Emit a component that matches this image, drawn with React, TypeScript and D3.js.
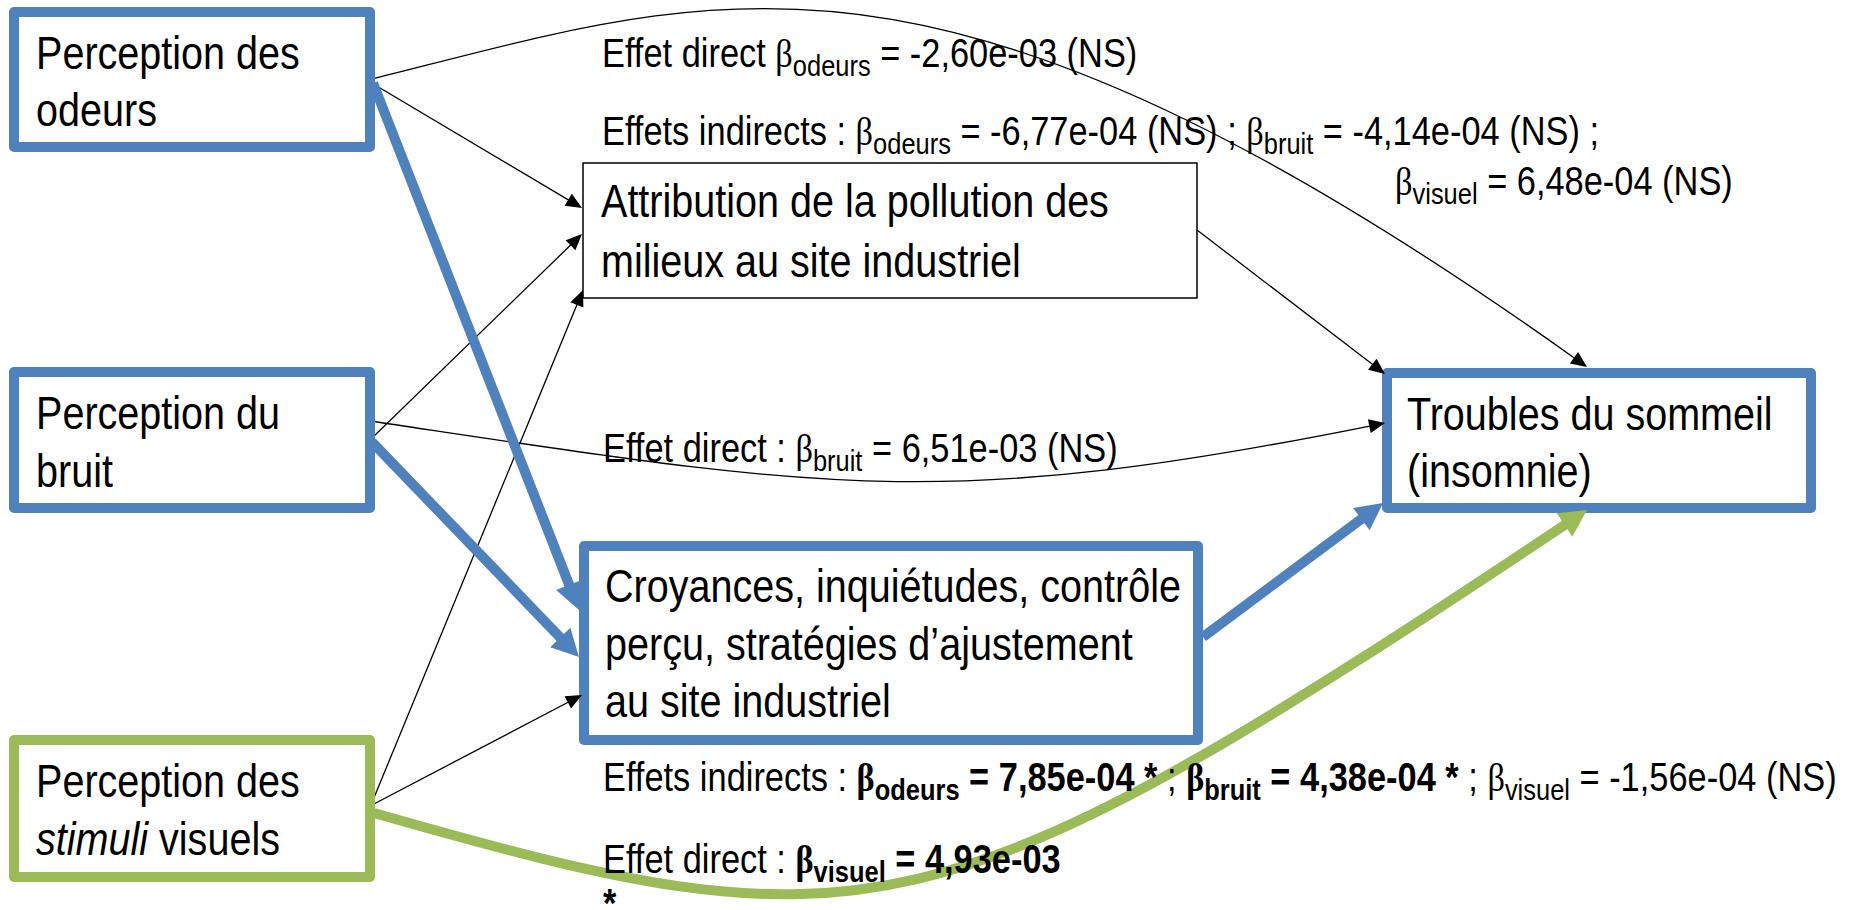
import React from "react";
import * as d3 from "d3";

type Seg = { t: string; b?: boolean; sub?: boolean; gr?: boolean; it?: boolean };
type Pt = [number, number];

const W = 1858;
const H = 910;
const BLUE = "#4F81BD";
const GREEN = "#9BBB59";
const SANS = "'Liberation Sans', Arial, sans-serif";
const SERIF = "'Liberation Serif', 'Times New Roman', serif";
const SX = 0.86; // police étroite

// variables du modèle
const nodeIds = ["odeurs", "bruit", "visuel", "attribution", "croyances", "troubles"];
const nodeLines: Seg[][][] = [
  [[{ t: "Perception des" }], [{ t: "odeurs" }]],
  [[{ t: "Perception du" }], [{ t: "bruit" }]],
  [[{ t: "Perception des" }], [{ t: "stimuli", it: true }, { t: " visuels" }]],
  [[{ t: "Attribution de la pollution des" }], [{ t: "milieux au site industriel" }]],
  [
    [{ t: "Croyances, inquiétudes, contrôle" }],
    [{ t: "perçu, stratégies d’ajustement" }],
    [{ t: "au site industriel" }],
  ],
  [[{ t: "Troubles du sommeil" }], [{ t: "(insomnie)" }]],
];
const nodeColor = [BLUE, BLUE, GREEN, "#000", BLUE, BLUE];

// coefficients
const predictors = ["odeurs", "bruit", "visuel"];
const directBeta = ["-2,60e-03", "6,51e-03", "4,93e-03"];
const directSig = [false, false, true];
const indirectAttribution = ["-6,77e-04", "-4,14e-04", "6,48e-04"];
const indirectAttributionSig = [false, false, false];
const indirectCroyances = ["7,85e-04", "4,38e-04", "-1,56e-04"];
const indirectCroyancesSig = [true, true, false];

// mise en page (centre du trait des cadres)
const boxes: Record<string, { x: number; y: number; w: number; h: number }> = {
  odeurs: { x: 14, y: 12, w: 356, h: 135 },
  bruit: { x: 14, y: 372, w: 356, h: 136 },
  visuel: { x: 14, y: 740, w: 356, h: 137 },
  attribution: { x: 583, y: 163, w: 614, h: 135 },
  croyances: { x: 584, y: 546, w: 614, h: 194 },
  troubles: { x: 1387, y: 373, w: 424, h: 135 },
};
const textAt: Pt[] = [[36, 69], [36, 429], [36, 797], [601, 217], [605, 602], [1407, 430]];
const lineGap = [57, 58, 58, 60, 57.5, 57];

function beta(i: number, value: string, sig: boolean, star = true): Seg[] {
  return [
    { t: "β", gr: true, b: sig },
    { t: predictors[i], sub: true, b: sig },
    { t: ` = ${value}${star ? (sig ? " *" : " (NS)") : ""}`, b: sig },
  ];
}

const annotations: { at: Pt; segs: Seg[] }[] = [
  { at: [602, 67], segs: [{ t: "Effet direct " }, ...beta(0, directBeta[0], directSig[0])] },
  {
    at: [602, 145],
    segs: [
      { t: "Effets indirects : " },
      ...beta(0, indirectAttribution[0], indirectAttributionSig[0]),
      { t: " ; " },
      ...beta(1, indirectAttribution[1], indirectAttributionSig[1]),
      { t: " ;" },
    ],
  },
  { at: [1395, 195], segs: beta(2, indirectAttribution[2], indirectAttributionSig[2]) },
  { at: [603, 462], segs: [{ t: "Effet direct : " }, ...beta(1, directBeta[1], directSig[1])] },
  {
    at: [603, 791],
    segs: [
      { t: "Effets indirects : " },
      ...beta(0, indirectCroyances[0], indirectCroyancesSig[0]),
      { t: " ; " },
      ...beta(1, indirectCroyances[1], indirectCroyancesSig[1]),
      { t: " ; " },
      ...beta(2, indirectCroyances[2], indirectCroyancesSig[2]),
    ],
  },
  { at: [603, 873], segs: [{ t: "Effet direct : " }, ...beta(2, directBeta[2], directSig[2], false)] },
  { at: [603, 917], segs: [{ t: "*", b: directSig[2] }] },
];

// liens : 2 points = droite, 4 points = courbe de Bézier
const thin = { w: 1.3, color: "#000", len: 16, half: 7 };
const thickBlue = { w: 10, color: BLUE, len: 27, half: 14 };
const thickGreen = { w: 10, color: GREEN, len: 27, half: 14 };
const edges: { pts: Pt[]; st: typeof thin }[] = [
  { pts: [[368, 80], [718, -7], [932, -100], [1587, 367]], st: thin },
  { pts: [[370, 421], [820, 488], [937, 513], [1385, 423]], st: thin },
  { pts: [[370, 82], [582, 208]], st: thin },
  { pts: [[370, 440], [582, 234]], st: thin },
  { pts: [[371, 805], [583, 290]], st: thin },
  { pts: [[372, 805], [582, 695]], st: thin },
  { pts: [[1197, 230], [1385, 374]], st: thin },
  { pts: [[373, 83], [579, 610]], st: thickBlue },
  { pts: [[372, 442], [579, 657]], st: thickBlue },
  { pts: [[1203, 637], [1383, 503]], st: thickBlue },
  { pts: [[374, 813], [864, 953], [936, 945], [1587, 510]], st: thickGreen },
];

function edgeShapes(pts: Pt[], st: typeof thin) {
  const tip = pts[pts.length - 1];
  const prev = pts[pts.length - 2];
  const dx = tip[0] - prev[0];
  const dy = tip[1] - prev[1];
  const n = Math.hypot(dx, dy);
  const ux = dx / n;
  const uy = dy / n;
  const bx = tip[0] - ux * st.len;
  const by = tip[1] - uy * st.len;
  const ex = tip[0] - ux * (st.len - 3);
  const ey = tip[1] - uy * (st.len - 3);
  const p = d3.path();
  p.moveTo(pts[0][0], pts[0][1]);
  if (pts.length === 4) p.bezierCurveTo(pts[1][0], pts[1][1], pts[2][0], pts[2][1], ex, ey);
  else p.lineTo(ex, ey);
  const head = d3.path();
  head.moveTo(tip[0], tip[1]);
  head.lineTo(bx - uy * st.half, by + ux * st.half);
  head.lineTo(bx + uy * st.half, by - ux * st.half);
  head.closePath();
  return { line: p.toString(), head: head.toString() };
}

function TextLine({ segs, x, y, size, subScale }: { segs: Seg[]; x: number; y: number; size: number; subScale: number }) {
  let down = false;
  const shift = size * 0.22;
  return (
    <text
      transform={`translate(${x},${y}) scale(${SX},1)`}
      fontSize={size}
      fontFamily={SANS}
      fill="#000"
      style={{ whiteSpace: "pre" }}
    >
      {segs.map((s, k) => {
        let dy = 0;
        if (s.sub && !down) {
          dy = shift;
          down = true;
        } else if (!s.sub && down) {
          dy = -shift;
          down = false;
        }
        return (
          <tspan
            key={k}
            dy={dy || undefined}
            fontSize={s.sub ? size * subScale : size}
            fontWeight={s.b ? "bold" : "normal"}
            fontStyle={s.it ? "italic" : "normal"}
            fontFamily={s.gr ? SERIF : SANS}
          >
            {s.t}
          </tspan>
        );
      })}
    </text>
  );
}

export default function App() {
  const shapes = edges.map((e) => ({ ...edgeShapes(e.pts, e.st), st: e.st }));
  return (
    <svg
      width={W}
      height={H}
      style={{ position: "absolute", left: 0, top: 0, display: "block", background: "#fff" }}
    >
      {shapes.map((s, i) => (
        <path key={"l" + i} d={s.line} fill="none" stroke={s.st.color} strokeWidth={s.st.w} />
      ))}
      {nodeIds.map((id, i) => {
        const b = boxes[id];
        return (
          <rect
            key={id}
            x={b.x}
            y={b.y}
            width={b.w}
            height={b.h}
            fill="#fff"
            stroke={nodeColor[i]}
            strokeWidth={id === "attribution" ? 1.5 : 10}
            strokeLinejoin="round"
          />
        );
      })}
      {shapes.map((s, i) => (
        <path key={"h" + i} d={s.head} fill={s.st.color} />
      ))}
      {nodeLines.map((lines, i) =>
        lines.map((segs, j) => (
          <TextLine
            key={nodeIds[i] + j}
            segs={segs}
            x={textAt[i][0]}
            y={textAt[i][1] + j * lineGap[i]}
            size={46}
            subScale={0.66}
          />
        ))
      )}
      {annotations.map((a, i) => (
        <TextLine key={"a" + i} segs={a.segs} x={a.at[0]} y={a.at[1]} size={40} subScale={0.74} />
      ))}
    </svg>
  );
}
